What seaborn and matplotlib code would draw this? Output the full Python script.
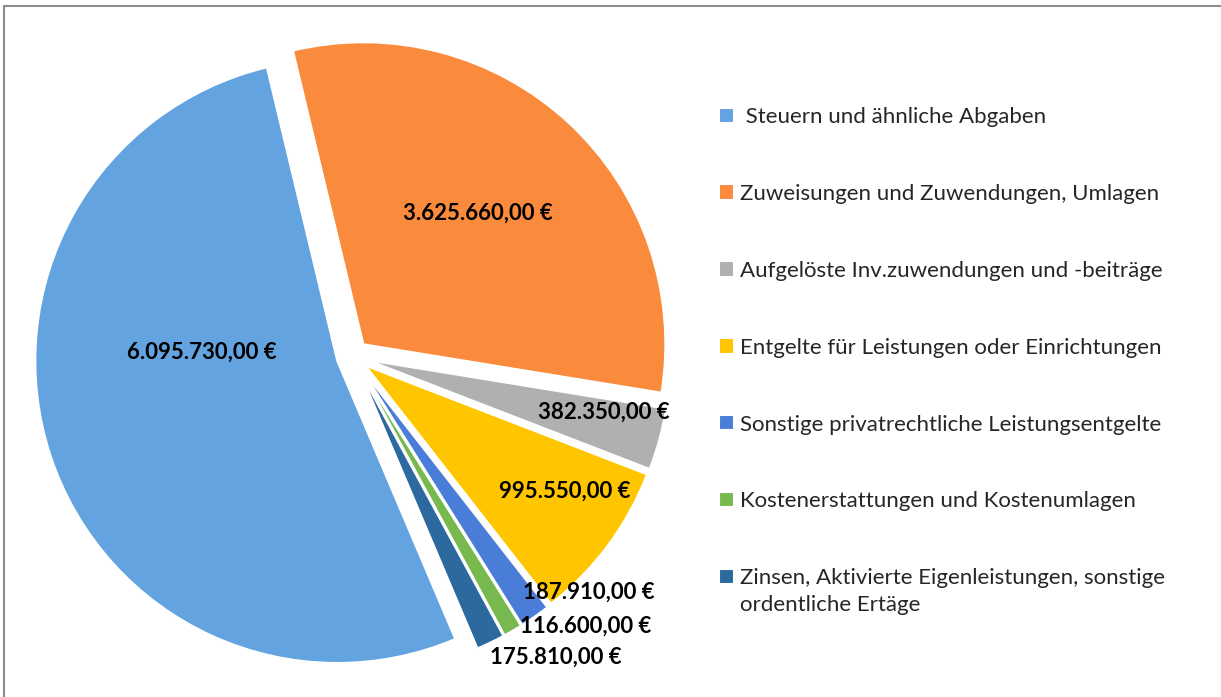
import matplotlib.pyplot as plt
import seaborn as sns
from matplotlib.lines import Line2D

categories = [
    " Steuern und ähnliche Abgaben",
    "Zuweisungen und Zuwendungen, Umlagen",
    "Aufgelöste Inv.zuwendungen und -beiträge",
    "Entgelte für Leistungen oder Einrichtungen",
    "Sonstige privatrechtliche Leistungsentgelte",
    "Kostenerstattungen und Kostenumlagen",
    "Zinsen, Aktivierte Eigenleistungen, sonstige\nordentliche Ertäge",
]
values = [6095730.00, 3625660.00, 382350.00, 995550.00, 187910.00, 116600.00, 175810.00]

colors = ["#63A3DF", "#FA8A3C", "#B0B0B0", "#FFC600", "#4A7DD8", "#77B94E", "#2C699F"]
# label anchor points in pie radius units
label_pos = [(-0.498, 0.013), (0.414, 0.474), (0.833, -0.185), (0.704, -0.447),
             (0.783, -0.781), (0.773, -0.894), (0.674, -0.997)]


def euro(v):
    s = f"{v:,.2f}".replace(",", "X").replace(".", ",").replace("X", ".")
    return s + " €"


sns.set_theme(style="white")
plt.rcParams["font.family"] = ["Lato", "DejaVu Sans"]

W, H = 1221, 697
fig = plt.figure(figsize=(W / 100, H / 100), dpi=100)

cx, cy, R = 352.5, 356, 302
lim = 1.15
side = 2 * lim * R
ax = fig.add_axes([(cx - side / 2) / W, (H - cy - side / 2) / H, side / W, side / H])

wedges, _ = ax.pie(
    values,
    colors=colors,
    startangle=293,
    counterclock=False,
    explode=[0.053] * len(values),
    wedgeprops=dict(edgecolor="white", linewidth=1.5),
)
ax.set_xlim(-lim, lim)
ax.set_ylim(-lim, lim)
ax.axis("off")

for v, (x, y) in zip(values, label_pos):
    ax.text(x, y, euro(v), ha="center", va="center", fontsize=16,
            fontweight="bold", color="black")

# legend: first line of each label; wrapped remainder drawn underneath
first_lines = [c.split("\n")[0] for c in categories]
leg = fig.legend(
    wedges, first_lines,
    loc="upper left", bbox_to_anchor=(719 / W, 1 - 107 / H),
    frameon=False, fontsize=16,
    handlelength=0.68, handleheight=0.68, handletextpad=0.25,
    labelspacing=2.56, borderaxespad=0, borderpad=0,
)
fig.canvas.draw()
for c, t in zip(categories, leg.get_texts()):
    rest = c.split("\n")[1:]
    if rest:
        bb = t.get_window_extent()
        fig.text(bb.x0 / W, (bb.y0 - 27) / H, "\n".join(rest), fontsize=16,
                 ha="left", va="bottom", color=t.get_color())

# chart frame (top and left edges visible)
fig.add_artist(Line2D([4 / W, 4 / W], [0, 1 - 6 / H], color="#8C8C8C", lw=1.5))
fig.add_artist(Line2D([4 / W, 1], [1 - 6 / H, 1 - 6 / H], color="#8C8C8C", lw=1.5))

fig.savefig("out.png", dpi=100)
